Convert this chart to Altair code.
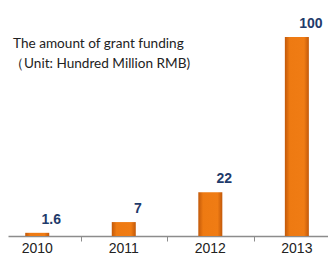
import altair as alt
import pandas as pd

years = [2010, 2011, 2012, 2013]
values = [1.6, 7, 22, 100]
value_labels = ["1.6", "7", "22", "100"]
year_labels = ["2010", "2011", "2012", "2013"]
boundaries = [2010.5, 2011.5, 2012.5]
title_lines = ["The amount of grant  funding", "\uff08Unit: Hundred Million RMB)"]

df = pd.DataFrame({"year": years, "value": values, "vlabel": value_labels, "ylabel": year_labels})
tdf = pd.DataFrame({"line": title_lines, "idx": [0, 1]})

W, H = 320, 228
xscale = alt.Scale(domain=[2009.72, 2013.302], nice=False, zero=False)
yscale = alt.Scale(domain=[0, 114.6], nice=False)

grad = alt.Gradient(
    gradient="linear",
    x1=0, x2=1, y1=0, y2=0,
    stops=[
        alt.GradientStop(color="#C2590A", offset=0),
        alt.GradientStop(color="#EE7A12", offset=0.2),
        alt.GradientStop(color="#F07C14", offset=0.8),
        alt.GradientStop(color="#C2590A", offset=1),
    ],
)

base = alt.Chart(df)

bars = base.mark_bar(size=24, color=grad).encode(
    x=alt.X("year:Q", scale=xscale,
            axis=alt.Axis(values=boundaries, labels=False, title=None, grid=False,
                          domainColor="#8c8c8c", domainWidth=1.5, tickColor="#8c8c8c",
                          tickSize=5, tickWidth=1)),
    y=alt.Y("value:Q", scale=yscale, axis=None),
)

vlabels = base.mark_text(font="Liberation Sans", fontWeight="bold", fontSize=14,
                         color="#1F3B6B", dx=14, dy=-13).encode(
    x=alt.X("year:Q", scale=xscale),
    y=alt.Y("value:Q", scale=yscale),
    text="vlabel:N",
)

ylabels = base.mark_text(font="Liberation Sans", fontSize=14, color="#222222",
                         baseline="middle").encode(
    x=alt.X("year:Q", scale=xscale),
    y=alt.value(H + 13),
    text="ylabel:N",
)

title_style = dict(font="Lato", fontSize=13.6, color="#222222", align="left", baseline="middle")
title1 = alt.Chart(tdf).transform_filter("datum.idx == 0").mark_text(**title_style).encode(
    x=alt.value(5), y=alt.value(36), text="line:N")
title2 = alt.Chart(tdf).transform_filter("datum.idx == 1").mark_text(**title_style).encode(
    x=alt.value(2), y=alt.value(56), text="line:N")

chart = alt.layer(bars, vlabels, ylabels, title1, title2).properties(
    width=W, height=H,
    autosize=alt.AutoSizeParams(type="none"),
    padding={"left": 0, "top": 0, "right": 0, "bottom": 20},
).configure_view(stroke=None)

chart.save("out.html", embed_options={"renderer": "svg", "actions": False})
